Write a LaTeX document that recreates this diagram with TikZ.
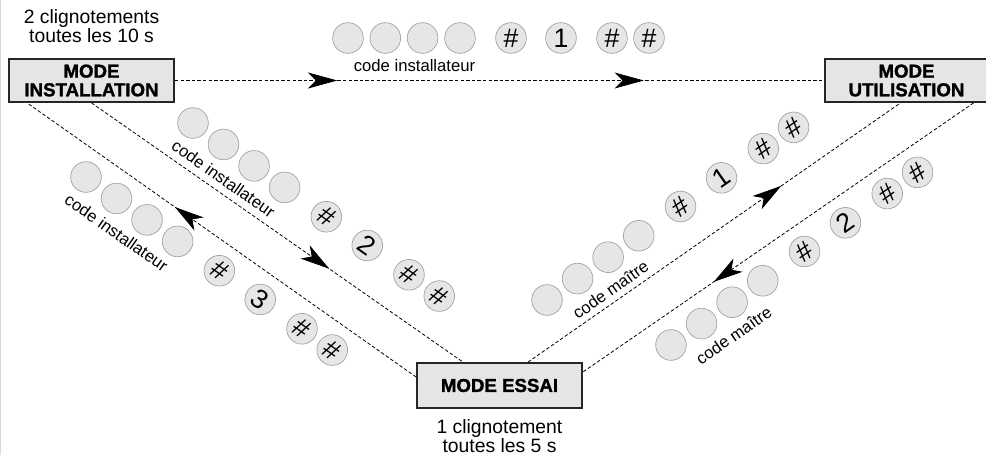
\documentclass[tikz,border=0pt]{standalone}
\usepackage{fontspec}
\setmainfont{Liberation Sans}
\newfontfamily\heavyfont{Liberation Sans Bold}[FakeBold=1.5]
\usetikzlibrary{arrows.meta,calc,decorations.markings,positioning}
\definecolor{keygray}{RGB}{230,230,230}
\definecolor{keyline}{RGB}{160,160,160}
\definecolor{boxgray}{RGB}{229,229,229}
\tikzset{
    modebox/.style={rectangle, draw=black!85, line width=1.1pt, fill=boxgray,
        minimum width=124pt, minimum height=32.5pt, inner sep=2pt, align=center,
        font=\heavyfont\fontsize{14}{14}\selectfont},
    blink/.style={align=center, inner sep=0pt, font=\fontsize{14.5}{14.5}\selectfont},
    key/.style={circle, draw=keyline, line width=0.5pt, fill=keygray,
        minimum size=23pt, inner sep=0pt, font=\fontsize{20}{20}\selectfont},
    codelabel/.style={inner sep=0pt, font=\fontsize{12.5}{12.5}\selectfont},
    link/.style={dash pattern=on 2.6pt off 1.6pt, line width=0.6pt},
    midarrow/.style={postaction={decorate, decoration={markings,
        mark=at position #1 with {\arrow[solid]{Stealth[length=22pt,width=12pt,inset=6pt]}}}}}
}

\begin{document}
\begin{tikzpicture}[x=0.75pt, y=0.75pt]
    \useasboundingbox (0,0) rectangle (986,455);
    \draw[black!15, line width=1pt] (0.7,0) -- (0.7,455);
    % modes
    \node[modebox] (inst) at (91.5,374.5) {MODE\\INSTALLATION};
    \node[modebox, minimum width=122pt] (util) at (906.5,374.5) {MODE\\UTILISATION};
    \node[modebox, minimum height=34pt] (essai) at (499.5,69.5) {MODE ESSAI};
    \node[blink] (inst-blink) [above=11pt of inst] {2 clignotements\\toutes les 10 s};
    \node[blink] (essai-blink) [below=7.5pt of essai] {1 clignotement\\toutes les 5 s};
    % transitions
    \draw[link, midarrow=0.25, midarrow=0.722] (inst) -- (util);
    \draw[link, midarrow=0.64] (inst.south) -- ($(essai.north)+(-36.5,0)$);
    \draw[link, midarrow=0.62] ($(essai.west)+(0,8.5)$) -- ($(inst.south west)+(19,0)$);
    \draw[link, midarrow=0.68] ($(essai.north)+(28.5,0)$) -- ($(util.south)+(-6,0)$);
    \draw[link, midarrow=0.665] ($(util.south east)+(-15,0)$) -- ($(essai.east)+(0,13.5)$);
    % key sequences
    \foreach \row/\px/\py/\ang/\num/\txt/\along in {top/348/417/0/1/code installateur/66.5,
            inA/193/332/-35.1/2/code installateur/57,
            inB/86/278/-35.1/3/code installateur/57,
            utA/547/155/35/1/code maître/58,
            utB/671/110/35/2/code maître/57} {
        \begin{scope}[shift={(\px,\py)}, rotate=\ang, transform shape]
            \foreach \d/\t [count=\i] in {0/{},37.3/{},74.6/{},112/{},163/\#,213/\num,264/\#,301/\#}
                \node[key] (\row-\i) at (\d,0) {\t};
            \node[codelabel] (\row-code) at (\along,-28) {\txt};
        \end{scope}
    }
\end{tikzpicture}
\end{document}
